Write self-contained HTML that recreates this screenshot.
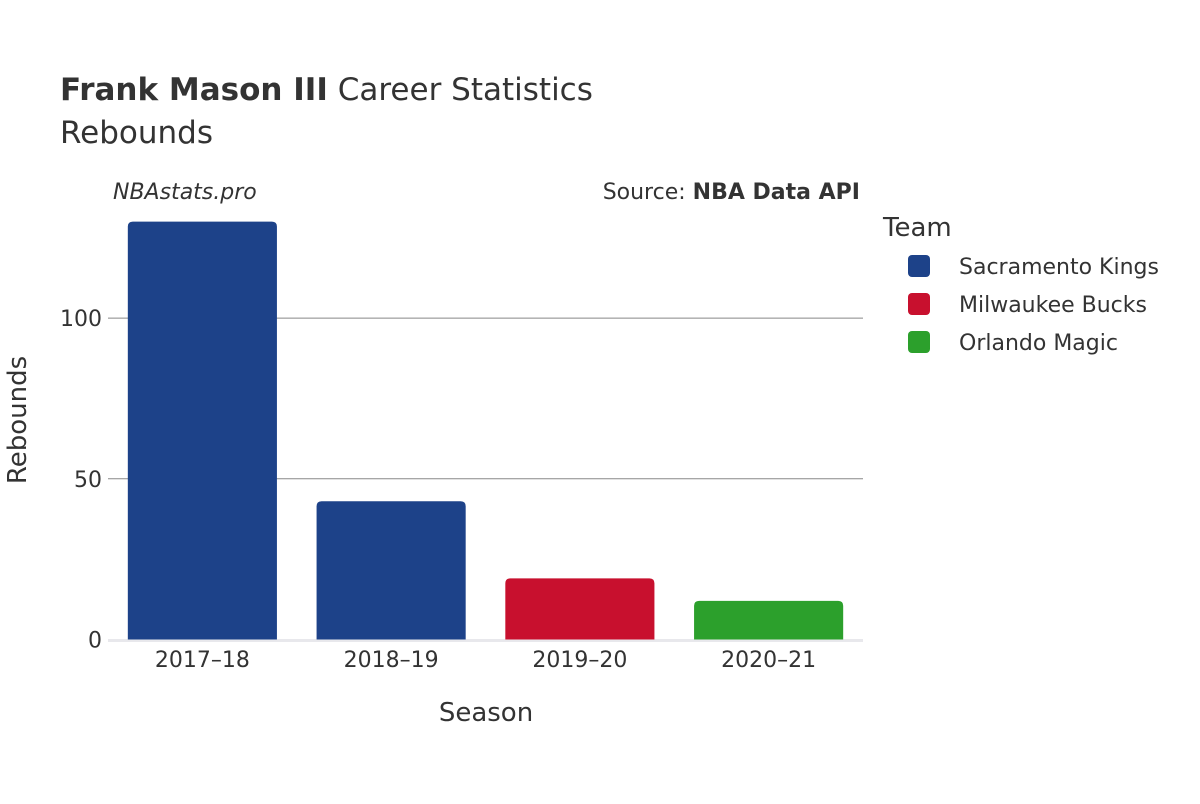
<!DOCTYPE html>
<html><head><meta charset="utf-8"><style>
body{margin:0;background:#fff;font-family:"DejaVu Sans","Liberation Sans",sans-serif;}
svg text{font-family:"DejaVu Sans","Liberation Sans",sans-serif;fill:#333;}
</style></head><body>
<svg id="chart" width="1200" height="800">
<text x="60" y="100" font-size="31"><tspan font-weight="bold">Frank Mason III</tspan> Career Statistics</text>
<text x="60" y="143" font-size="31">Rebounds</text>
<text x="113" y="199" font-size="22" font-style="italic">NBAstats.pro</text>
<text x="860" y="199" font-size="22" text-anchor="end">Source: <tspan font-weight="bold">NBA Data API</tspan></text>
<g id="grid"></g>
<g id="bars"></g>
<g id="xticks"></g>
<text x="486" y="721" font-size="26" text-anchor="middle">Season</text>
<text transform="translate(26,420) rotate(-90)" font-size="26" text-anchor="middle">Rebounds</text>
<text x="883" y="236" font-size="26">Team</text>
<g id="legend"></g>
</svg>
<script>
const seasons=["2017–18","2018–19","2019–20","2020–21"];
const rebounds=[130,43,19,12];
const teams=["Sacramento Kings","Sacramento Kings","Milwaukee Bucks","Orlando Magic"];
const legendTeams=["Sacramento Kings","Milwaukee Bucks","Orlando Magic"];
const teamColors={"Sacramento Kings":"#1d4289","Milwaukee Bucks":"#c8102e","Orlando Magic":"#2ca02c"};
const yTicks=[0,50,100];
const NS="http://www.w3.org/2000/svg";
const x0=108,x1=863,yBase=639.5,pxPer=3.214;
const band=(x1-x0)/seasons.length;
const y=v=>yBase-v*pxPer;
function mk(t,a){const e=document.createElementNS(NS,t);for(const k in a)e.setAttribute(k,a[k]);return e;}
const grid=document.getElementById('grid');
yTicks.forEach(v=>{
  if(v>0){const l=mk('line',{x1:x0,x2:x1,y1:y(v),y2:y(v),stroke:'#888','stroke-width':1});
  
  
  grid.appendChild(l);}
  const t=mk('text',{x:x0-6,y:y(v)+8,'font-size':22,'text-anchor':'end'});t.textContent=v;
  
  
  grid.appendChild(t);
});
const base=mk('line',{x1:x0,x2:x1,y1:yBase+1,y2:yBase+1,stroke:'#e8e8ec','stroke-width':3});


grid.appendChild(base);
const bars=document.getElementById('bars'),xt=document.getElementById('xticks');
seasons.forEach((s,i)=>{
  const bx=x0+i*band+band*0.105,bw=band*0.79,top=y(rebounds[i]);
  const r=5,h=yBase-top;
  const p=mk('path',{d:`M${bx},${yBase}V${top+r}Q${bx},${top} ${bx+r},${top}H${bx+bw-r}Q${bx+bw},${top} ${bx+bw},${top+r}V${yBase}Z`,fill:teamColors[teams[i]]});
  
  
  bars.appendChild(p);
  const t=mk('text',{x:x0+i*band+band/2,y:667,'font-size':22,'text-anchor':'middle'});t.textContent=s;
  
  
  xt.appendChild(t);
});
const lg=document.getElementById('legend');
legendTeams.forEach((tm,i)=>{
  const g=mk('g',{});
  
  
  g.appendChild(mk('rect',{x:908,y:255+i*38,width:22,height:22,rx:4,fill:teamColors[tm]}));
  const t=mk('text',{x:959,y:274+i*38,'font-size':22});t.textContent=tm;g.appendChild(t);
  lg.appendChild(g);
});
</script>
</body></html>
